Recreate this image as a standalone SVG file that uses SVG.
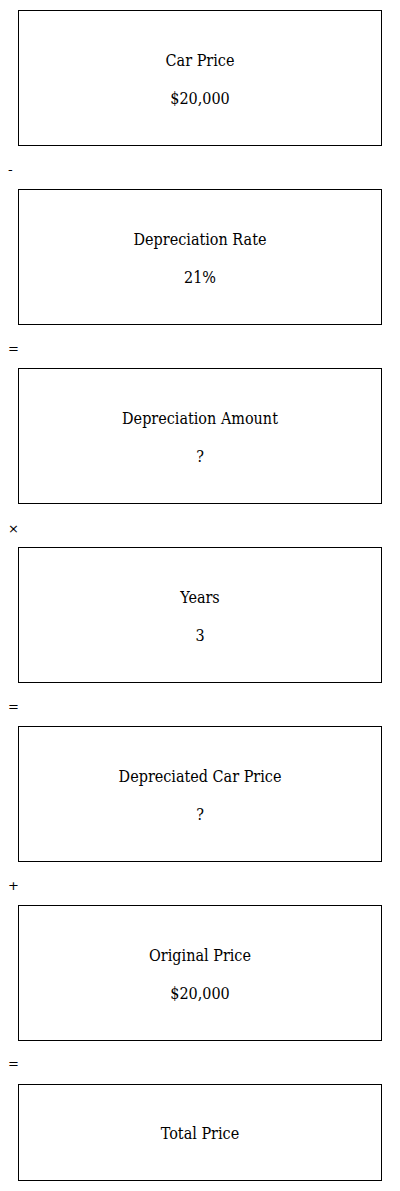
<svg xmlns="http://www.w3.org/2000/svg" width="400" height="1191" viewBox="0 0 400 1191">
<style>
.box{fill:#fff;stroke:#000;stroke-width:1}
.t{font-family:"DejaVu Serif Condensed","Liberation Serif",serif;font-stretch:condensed;font-size:16px;fill:#000;text-anchor:middle}
.op{font-family:"DejaVu Sans","Liberation Sans",sans-serif;font-size:13px;fill:#000}
</style>
<rect width="400" height="1191" fill="#fff"/>
<g id="n1"><rect class="box" x="18.5" y="10.5" width="363" height="135"/><text class="t" x="200" y="65.5">Car Price</text><text class="t" x="200" y="104">$20,000</text></g>
<g id="n2"><rect class="box" x="18.5" y="189.5" width="363" height="135"/><text class="t" x="200" y="244.5">Depreciation Rate</text><text class="t" x="200" y="283">21%</text></g>
<g id="n3"><rect class="box" x="18.5" y="368.5" width="363" height="135"/><text class="t" x="200" y="423.5">Depreciation Amount</text><text class="t" x="200" y="462">?</text></g>
<g id="n4"><rect class="box" x="18.5" y="547.5" width="363" height="135"/><text class="t" x="200" y="602.5">Years</text><text class="t" x="200" y="641">3</text></g>
<g id="n5"><rect class="box" x="18.5" y="726.5" width="363" height="135"/><text class="t" x="200" y="781.5">Depreciated Car Price</text><text class="t" x="200" y="820">?</text></g>
<g id="n6"><rect class="box" x="18.5" y="905.5" width="363" height="135"/><text class="t" x="200" y="960.5">Original Price</text><text class="t" x="200" y="999">$20,000</text></g>
<g id="n7"><rect class="box" x="18.5" y="1084.5" width="363" height="96"/><text class="t" x="200" y="1139.3">Total Price</text></g>
<g id="connectors">
<text class="op" x="8" y="174">-</text>
<text class="op" x="8" y="353">=</text>
<text class="op" x="8" y="533">×</text>
<text class="op" x="8" y="711">=</text>
<text class="op" x="8" y="890">+</text>
<text class="op" x="8" y="1068">=</text>
</g>
</svg>
